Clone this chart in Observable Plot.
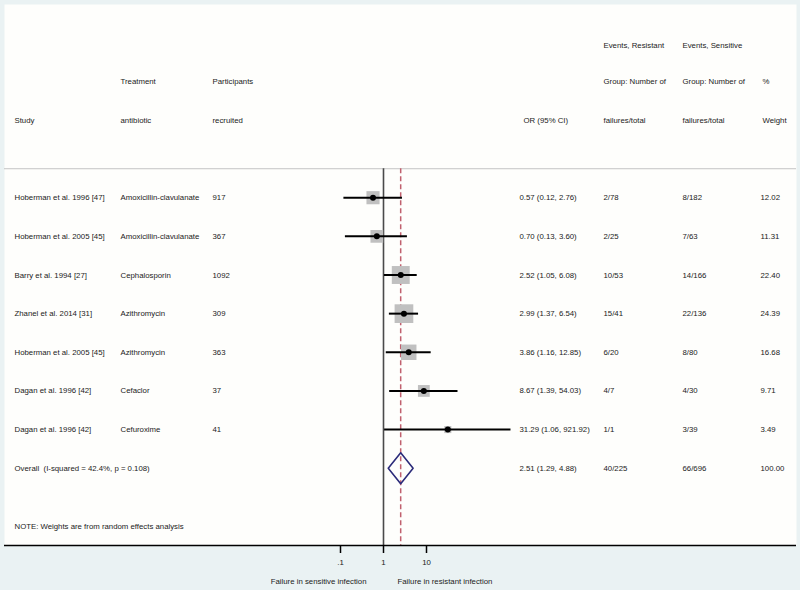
<!DOCTYPE html>
<html>
<head>
<meta charset="utf-8">
<script src="https://cdn.jsdelivr.net/npm/d3@7"></script>
<script src="https://cdn.jsdelivr.net/npm/@observablehq/plot@0.6"></script>
<style>
  html, body { margin: 0; padding: 0; background: #eaf2f3; }
  #chart svg { display: block; }
</style>
</head>
<body>
<div id="chart"></div>
<script>
// ---- data ----
const studies = ["Hoberman et al. 1996 [47]", "Hoberman et al. 2005 [45]", "Barry et al. 1994 [27]", "Zhanel et al. 2014 [31]", "Hoberman et al. 2005 [45]", "Dagan et al. 1996 [42]", "Dagan et al. 1996 [42]"];
const antibiotics = ["Amoxicillin-clavulanate", "Amoxicillin-clavulanate", "Cephalosporin", "Azithromycin", "Azithromycin", "Cefaclor", "Cefuroxime"];
const participants = [917, 367, 1092, 309, 363, 37, 41];
const oddsRatios = [0.57, 0.70, 2.52, 2.99, 3.86, 8.67, 31.29];
const ciLow = [0.12, 0.13, 1.05, 1.37, 1.16, 1.39, 1.06];
const ciHigh = [2.76, 3.60, 6.08, 6.54, 12.85, 54.03, 921.92];
const eventsResistant = ["2/78", "2/25", "10/53", "15/41", "6/20", "4/7", "1/1"];
const eventsSensitive = ["8/182", "7/63", "14/166", "22/136", "8/80", "4/30", "3/39"];
const weights = [12.02, 11.31, 22.40, 24.39, 16.68, 9.71, 3.49];

const overallLabel = "Overall  (I-squared = 42.4%, p = 0.108)";
const overallOR = 2.51, overallLow = 1.29, overallHigh = 4.88;
const overallResistant = "40/225", overallSensitive = "66/696", overallWeight = "100.00";
const noteText = "NOTE: Weights are from random effects analysis";

const headStudy = ["", "", "Study"];
const headTreat = ["", "Treatment", "antibiotic"];
const headPart = ["", "Participants", "recruited"];
const headOR = ["", "", "OR (95% CI)"];
const headRes = ["Events, Resistant", "Group: Number of", "failures/total"];
const headSen = ["Events, Sensitive", "Group: Number of", "failures/total"];
const headW = ["", "%", "Weight"];

const xTicks = [0.1, 1, 10];
const xTickLabels = [".1", "1", "10"];
const axisLeftTitle = "Failure in sensitive infection";
const axisRightTitle = "Failure in resistant infection";

// ---- tables ----
const fmt2 = d3.format(".2f");
const rows = studies.map((s, i) => ({
  row: i, study: s, antibiotic: antibiotics[i], participants: String(participants[i]),
  or: oddsRatios[i], lo: ciLow[i], hi: ciHigh[i],
  orText: `${fmt2(oddsRatios[i])} (${fmt2(ciLow[i])}, ${fmt2(ciHigh[i])})`,
  res: eventsResistant[i], sen: eventsSensitive[i], weight: weights[i], wText: fmt2(weights[i])
}));
const overallRow = studies.length;
const textRows = rows.concat([{
  row: overallRow, study: overallLabel, antibiotic: "", participants: "",
  orText: `${fmt2(overallOR)} (${fmt2(overallLow)}, ${fmt2(overallHigh)})`,
  res: overallResistant, sen: overallSensitive, wText: overallWeight
}]);

const headerRowPos = [-3.95, -3, -2];
const headers = headerRowPos.map((r, k) => ({
  row: r, study: headStudy[k], treat: headTreat[k], part: headPart[k], or: headOR[k],
  res: headRes[k], sen: headSen[k], w: headW[k]
}));

const diamondHalf = 0.4;
const diamond = [
  {x: overallLow, y: overallRow},
  {x: overallOR, y: overallRow - diamondHalf},
  {x: overallHigh, y: overallRow},
  {x: overallOR, y: overallRow + diamondHalf},
  {x: overallLow, y: overallRow}
];

const yTop = -5, yBottom = 9, ySep = -0.75, noteRow = 8.5;
const textColor = "#222222";
const fs = 7.8;

function col(data, field, dx) {
  return Plot.text(data, {y: "row", text: field, frameAnchor: "left", dx, textAnchor: "start", fill: textColor, fontSize: fs});
}

const chart = Plot.plot({
  width: 800,
  height: 590,
  marginLeft: 4,
  marginRight: 4,
  marginTop: 4,
  marginBottom: 45,
  style: {background: "#eaf2f3", fontFamily: "'Liberation Sans', Arial, sans-serif", fontSize: fs + "px"},
  x: {type: "log", domain: [0.1, 10], range: [340, 426]},
  y: {domain: [yTop, yBottom], reverse: true, axis: null},
  r: {type: "sqrt", domain: [0, 24.39], range: [0, 10.55]},
  marks: [
    Plot.frame({fill: "#fefefc", stroke: null}),
    Plot.ruleY([ySep], {stroke: "#c4c4c4", strokeWidth: 1}),
    Plot.ruleX([1], {y1: ySep, y2: yBottom, stroke: "#4a4a4a", strokeWidth: 1.6}),
    Plot.ruleX([overallOR], {y1: ySep, y2: yBottom, stroke: "#c0606e", strokeWidth: 1.5, strokeDasharray: "5,3"}),
    Plot.dot(rows, {x: "or", y: "row", r: "weight", symbol: "square", fill: "#c0c0c0", stroke: null}),
    Plot.ruleY(rows, {y: "row", x1: "lo", x2: "hi", stroke: "#000", strokeWidth: 2}),
    Plot.dot(rows, {x: "or", y: "row", r: 3, fill: "#000", stroke: null}),
    Plot.line(diamond, {x: "x", y: "y", stroke: "#2b2b7a", strokeWidth: 1.6, fill: "none"}),
    // header texts
    col(headers, "study", 10),
    col(headers, "treat", 116),
    col(headers, "part", 208),
    col(headers, "or", 519),
    col(headers, "res", 599),
    col(headers, "sen", 678),
    col(headers, "w", 758),
    // row texts
    col(textRows, "study", 10),
    col(textRows, "antibiotic", 116),
    col(textRows, "participants", 208),
    col(textRows, "orText", 515),
    col(textRows, "res", 599),
    col(textRows, "sen", 678),
    col(textRows, "wText", 756),
    Plot.text([noteText], {y: noteRow, text: d => d, frameAnchor: "left", dx: 10, textAnchor: "start", fill: textColor, fontSize: fs}),
    // axis
    Plot.ruleY([yBottom], {stroke: "#000", strokeWidth: 1.5}),
    Plot.axisX({ticks: xTicks, tickFormat: d => xTickLabels[xTicks.indexOf(d)], tickSize: 8, tickPadding: 6, label: null, fontSize: fs, stroke: "#000", strokeWidth: 1.5, fill: textColor}),
    Plot.text([axisLeftTitle], {x: 1, text: d => d, frameAnchor: "bottom", dy: 38, dx: -17, textAnchor: "end", fill: textColor, fontSize: fs}),
    Plot.text([axisRightTitle], {x: 1, text: d => d, frameAnchor: "bottom", dy: 38, dx: 14, textAnchor: "start", fill: textColor, fontSize: fs})
  ]
});
document.getElementById("chart").append(chart);
</script>
</body>
</html>
